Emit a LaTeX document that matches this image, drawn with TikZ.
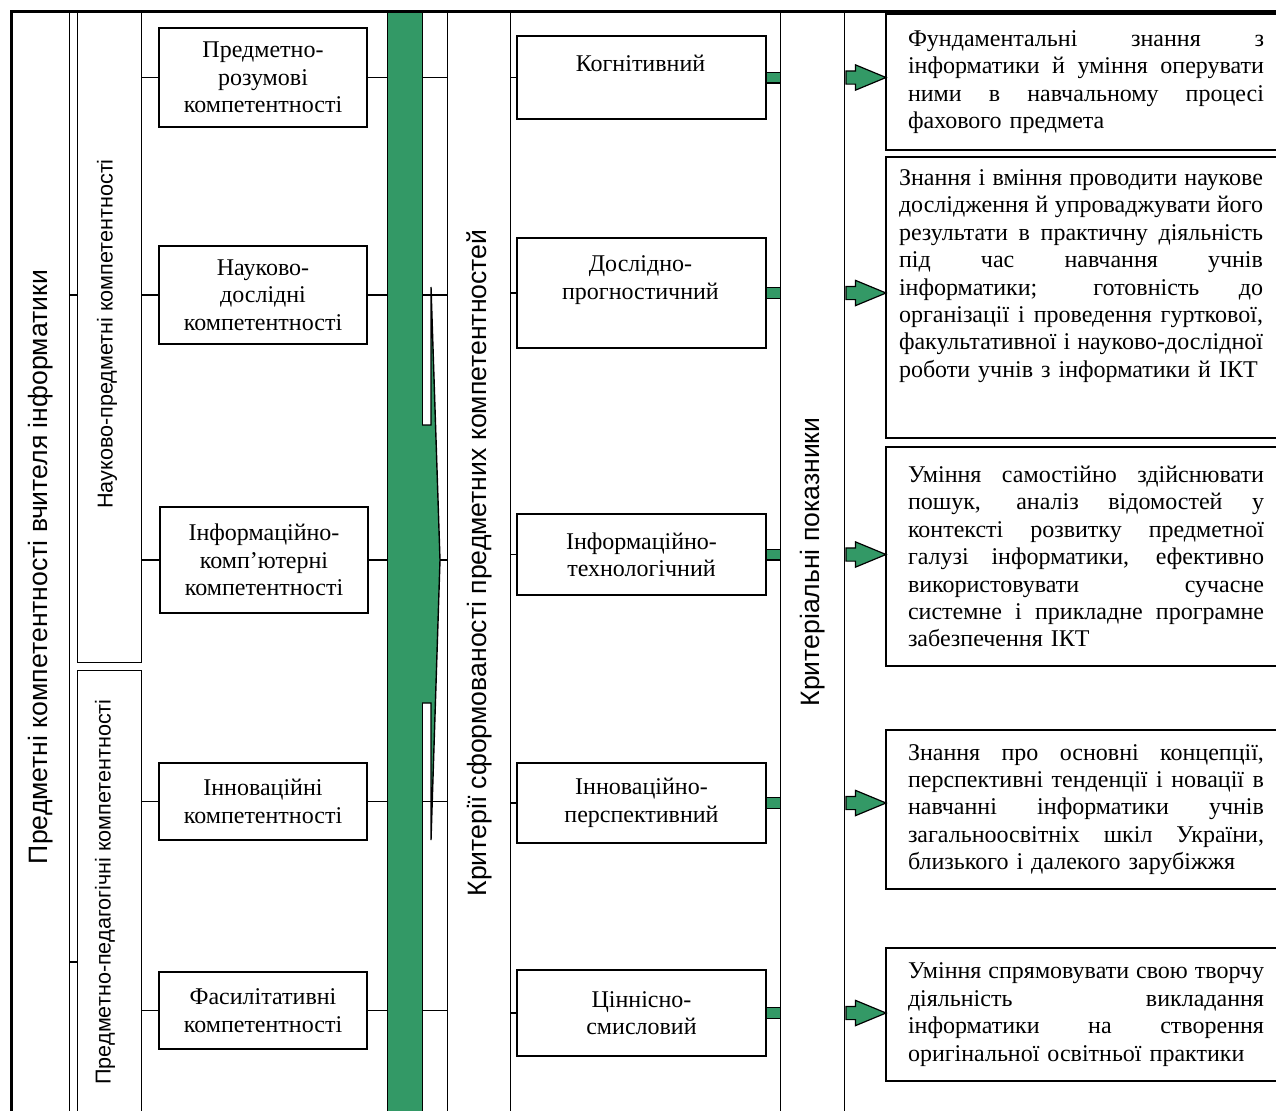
\documentclass[tikz,border=0pt]{standalone}
\usepackage{fontspec}
\setmainfont{Liberation Serif}
\newfontfamily\labfont{Liberation Sans}
\usetikzlibrary{shapes.arrows}

\definecolor{zelenyi}{RGB}{51,153,102}
\newcommand{\jl}[2][178pt]{\leavevmode\hbox to #1{\spaceskip=0.25em plus 1fil\relax #2}\\}

\begin{document}
\begin{tikzpicture}[
    x=0.5pt, y=-0.5pt,
% Block styles
    colbox/.style={rectangle, draw, line width=0.7pt, anchor=north west, inner sep=0pt},
    comp/.style={rectangle, draw, line width=1pt, anchor=north west, inner sep=0pt, minimum width=104pt, align=center, font=\fontsize{12pt}{13.7pt}\selectfont},
    crit/.style={rectangle, draw, line width=1pt, anchor=north west, inner sep=0pt, minimum width=124.5pt, align=center, font=\fontsize{12pt}{13.7pt}\selectfont},
    desc/.style={rectangle, draw, line width=1pt, anchor=north west, inner ysep=0pt, inner xsep=11pt, text width=200pt, align=left, font=\fontsize{12pt}{13.7pt}\selectfont},
    vlab/.style={rotate=90, inner sep=0pt, font=\labfont\fontsize{13.3pt}{15pt}\selectfont},
    vlabs/.style={rotate=90, inner sep=0pt, font=\labfont\fontsize{10.8pt}{13pt}\selectfont},
    link/.style={line width=0.7pt},
    glink/.style={line width=0.6pt, double=zelenyi, double distance=4.8pt},
    garrow/.style={single arrow, draw, fill=zelenyi, line width=0.6pt, anchor=west, inner xsep=0pt, inner ysep=3pt, minimum height=20pt, single arrow head extend=3pt, single arrow tip angle=45}
]
\useasboundingbox (0,0) rectangle (1276,1110);
\clip (0,0) rectangle (1276,1110);

% 1. Columns
\node[colbox, minimum width=29pt, minimum height=559.5pt] (outer) at (11,11) {};
\node[colbox, minimum width=32pt, minimum height=325pt] (nauk) at (77,12) {};
\node[colbox, minimum width=32pt, minimum height=230pt] (ped) at (77,670) {};
\node[colbox, fill=zelenyi, minimum width=17.5pt, minimum height=559pt] (gbar) at (387,12) {};
\node[colbox, minimum width=31.5pt, minimum height=559pt] (kritcol) at (447,12) {};
\node[colbox, minimum width=32pt, minimum height=559pt] (pokaz) at (780,12) {};
\draw[line width=1.5pt] (1276,11) -- (11,11) -- (11,1120);

\node[vlab] at (41,567) {Предметні компетентності вчителя інформатики};
\node[vlabs] at (107,334) {Науково-предметні компетентності};
\node[vlabs] at (105,892) {Предметно-педагогічні компетентності};
\node[vlab] at (479,563) {Критерії сформованості предметних компетентностей};
\node[vlab] at (813,562) {Критеріальні показники};

% 2. Subject competences
\node[comp, minimum height=49.5pt] (comp1) at (158,27) {Предметно-\\розумові\\компетентності};
\node[comp, minimum height=49pt] (comp2) at (158,245) {Науково-\\дослідні\\компетентності};
\node[comp, minimum height=53pt] (comp3) at (159,506) {Інформаційно-\\комп’ютерні\\компетентності};
\node[comp, minimum height=38.5pt] (comp4) at (158,762) {Інноваційні\\компетентності};
\node[comp, minimum height=38.5pt] (comp5) at (158,971) {Фасилітативні\\компетентності};

% links: columns -> competences -> green bar
\draw[link] (outer.east |- comp2.west) -- (nauk.west |- comp2.west);
\coordinate (pedtick) at (0,962);
\draw[link] (outer.east |- pedtick) -- (ped.west |- pedtick);
\draw[link] (comp1.west -| nauk.east) -- (comp1.west);
\draw[link] (comp2.west -| nauk.east) -- (comp2.west);
\draw[link] (comp3.west -| nauk.east) -- (comp3.west);
\draw[link] (comp4.west -| ped.east) -- (comp4.west);
\draw[link] (comp5.west -| ped.east) -- (comp5.west);
\draw[link] (comp1.east) -- (comp1.east -| gbar.west);
\draw[link] (comp2.east) -- (comp2.east -| gbar.west);
\draw[link] (comp3.east) -- (comp3.east -| gbar.west);
\draw[link] (comp4.east) -- (comp4.east -| gbar.west);
\draw[link] (comp5.east) -- (comp5.east -| gbar.west);
\draw[link] (comp1.east -| gbar.east) -- (comp1.east -| kritcol.west);
\draw[link] (comp2.east -| gbar.east) -- (comp2.east -| kritcol.west);
\draw[link] (comp3.east -| gbar.east) -- (comp3.east -| kritcol.west);
\draw[link] (comp4.east -| gbar.east) -- (comp4.east -| kritcol.west);
\draw[link] (comp5.east -| gbar.east) -- (comp5.east -| kritcol.west);

% arrow head on the green bar
\draw[link, fill=zelenyi] (422,425) -- (431,425) -- (431,287) -- (440,560) -- (431,840) -- (431,703) -- (422,703);

% 3. Criteria
\node[crit, minimum height=41.5pt] (kog) at (516,35) {};
\node[crit, minimum height=55pt] (dosl) at (516,237) {};
\node[crit, minimum height=40.5pt] (inftech) at (516,513) {Інформаційно-\\технологічний};
\node[crit, minimum height=40pt] (innov) at (516,762) {Інноваційно-\\перспективний};
\node[crit, minimum height=43pt] (cinn) at (516,969) {Ціннісно-\\смисловий};
\node[font=\fontsize{12pt}{13.7pt}\selectfont] at (640.5,63) {Когнітивний};
\node[align=center, font=\fontsize{12pt}{13.7pt}\selectfont] at (640.5,280) {Дослідно-\\прогностичний};

\draw[link] (kog.west -| kritcol.east) -- (kog.west);
\draw[link] (dosl.west -| kritcol.east) -- (dosl.west);
\draw[link] (inftech.west -| kritcol.east) -- (inftech.west);
\draw[link] (innov.west -| kritcol.east) -- (innov.west);
\draw[link] (cinn.west -| kritcol.east) -- (cinn.west);

\draw[glink] (kog.east) -- (kog.east -| pokaz.west);
\draw[glink] (dosl.east) -- (dosl.east -| pokaz.west);
\draw[glink] (inftech.east) -- (inftech.east -| pokaz.west);
\draw[glink] (innov.east) -- (innov.east -| pokaz.west);
\draw[glink] (cinn.east) -- (cinn.east -| pokaz.west);

% 4. Indicators
\node[garrow] (ar1) at (kog.east -| pokaz.east) {};
\node[garrow] (ar2) at (dosl.east -| pokaz.east) {};
\node[garrow] (ar3) at (inftech.east -| pokaz.east) {};
\node[garrow] (ar4) at (innov.east -| pokaz.east) {};
\node[garrow] (ar5) at (cinn.east -| pokaz.east) {};

\node[desc, minimum height=68pt] (desc1) at (885,13) {\jl{Фундаментальні знання з}\jl{інформатики й уміння оперувати}\jl{ними в навчальному процесі}фахового предмета};
\node[desc, inner xsep=6.5pt, minimum height=140.5pt] (desc2) at (885,156) {\jl[182pt]{Знання і вміння проводити наукове}\jl[182pt]{дослідження й упроваджувати його}\jl[182pt]{результати в практичну діяльність}\jl[182pt]{під час навчання учнів}\jl[182pt]{інформатики; готовність до}\jl[182pt]{організації і проведення гурткової,}\jl[182pt]{факультативної і науково-дослідної}роботи учнів з інформатики й ІКТ\rule[-24pt]{0pt}{0pt}};
\node[desc, minimum height=109.5pt] (desc3) at (885,446) {\jl{Уміння самостійно здійснювати}\jl{пошук, аналіз відомостей у}\jl{контексті розвитку предметної}\jl{галузі інформатики, ефективно}\jl{використовувати сучасне}\jl{системне і прикладне програмне}забезпечення ІКТ};
\node[desc, minimum height=79.5pt] (desc4) at (885,729) {\jl{Знання про основні концепції,}\jl{перспективні тенденції і новації в}\jl{навчанні інформатики учнів}\jl{загальноосвітніх шкіл України,}близького і далекого зарубіжжя};
\node[desc, minimum height=66.5pt] (desc5) at (885,947) {\jl{Уміння спрямовувати свою творчу}\jl{діяльність викладання}\jl{інформатики на створення}оригінальної освітньої практики};

\end{tikzpicture}
\end{document}
